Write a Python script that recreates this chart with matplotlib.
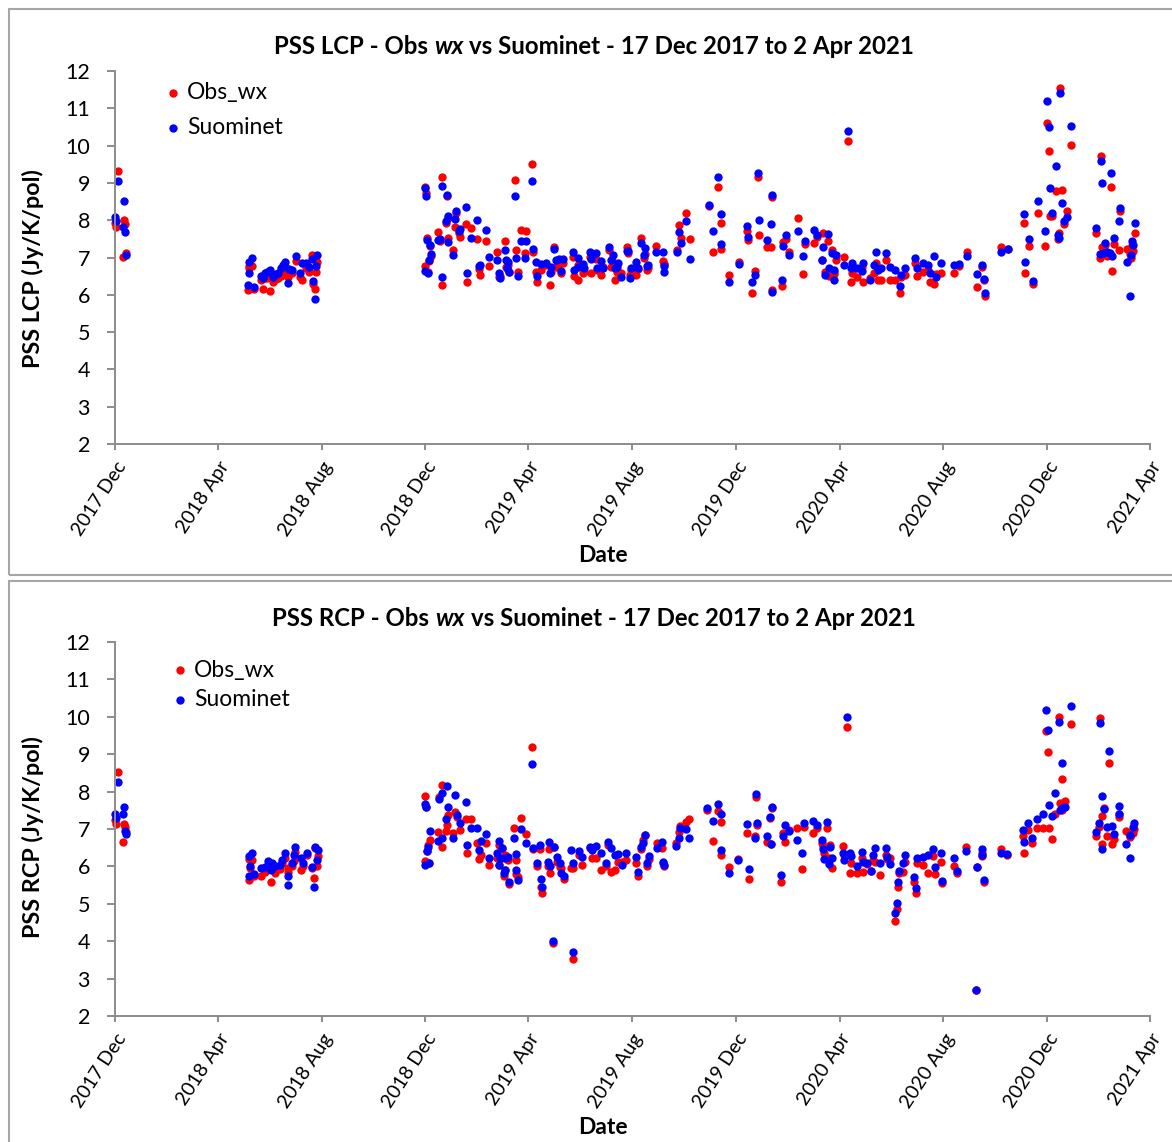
import datetime as dt
import matplotlib
matplotlib.use("Agg")
import matplotlib.pyplot as plt
from matplotlib.patches import Rectangle
from matplotlib.lines import Line2D

# ---------------- data (days since 17 Dec 2017) ----------------
lcp_day = [0, 1, 4, 9, 11, 12, 13,
           156, 157, 158, 161, 163, 172, 174, 176, 179, 182, 186, 189, 192, 195, 198, 200, 203, 205, 208,
           213, 217, 220, 225, 228, 232, 233, 235, 236, 237,
           364, 365, 366, 367, 368, 369, 370, 371, 380, 382, 384, 385, 389, 390, 391, 392, 397, 400, 401,
           404, 406, 413, 414, 419, 426, 428, 429, 436, 440,
           449, 451, 453, 458, 460, 461, 462, 463, 470, 472, 474, 477, 482, 483, 490, 492, 495, 496,
           501, 507, 511, 513, 516, 519, 522, 524, 527, 539, 540, 544, 545, 550, 552, 559, 560, 566, 567,
           572, 574, 581, 583, 586, 588, 590, 592, 595, 602, 603, 605, 607, 613, 615, 619, 622, 623, 626,
           627, 636, 644, 645, 646,
           661, 663, 665, 671, 676, 698, 703, 709, 712, 713, 722, 734, 743, 744, 749, 753, 756, 757, 767,
           771, 772, 773, 784, 785, 789, 792, 803, 809, 811,
           822, 826, 831, 832, 835, 838, 839, 843, 845, 846, 848, 857, 862, 866, 867, 873, 878, 879, 888,
           892, 895, 897, 901, 907, 911, 917, 923, 924, 929, 941, 943, 950, 956, 958, 963, 965, 971, 986,
           992, 1002, 1014, 1020, 1022, 1023, 1042, 1050,
           1069, 1070, 1075, 1079, 1085, 1093, 1096, 1098, 1099, 1102, 1106, 1109, 1110, 1111, 1113, 1116,
           1119, 1124, 1154, 1158, 1159, 1161, 1162, 1164, 1167, 1170, 1171, 1172, 1175, 1180, 1182, 1190,
           1194, 1195, 1196, 1197, 1199]
lcp_obs = [7.92, 7.83, 9.32, 7.02, 8.00, 7.90, 7.13,
           6.13, 6.78, 6.71, 6.78, 6.16, 6.40, 6.16, 6.45, 6.45, 6.10, 6.33, 6.42, 6.44, 6.50, 6.65, 6.75, 6.49, 6.55, 6.58,
           6.90, 6.49, 6.40, 6.71, 6.60, 7.07, 6.29, 6.15, 6.60, 6.89,
           6.77, 8.90, 8.72, 7.51, 6.62, 6.90, 7.30, 7.04, 7.69, 7.45, 6.26, 9.17, 7.92, 8.66, 7.51, 8.05, 7.20, 7.81, 8.20,
           7.65, 7.54, 7.90, 6.35, 7.78, 7.50, 6.68, 6.53, 7.45, 6.77,
           7.14, 6.48, 6.50, 7.45, 6.75, 6.71, 6.80, 6.62, 9.08, 7.20, 6.62, 7.74, 7.13, 7.72, 9.52, 7.16, 6.62, 6.33,
           6.66, 6.80, 6.26, 6.62, 7.27, 6.75, 6.82, 6.58, 6.84, 7.02, 6.50, 6.41, 6.80, 6.58, 6.60, 7.02, 6.58, 6.96, 6.66,
           6.53, 6.75, 7.20, 6.75, 6.89, 6.40, 6.62, 6.62, 6.58, 7.27, 7.13, 6.53, 6.66, 6.53, 6.70, 7.51, 7.00, 7.10, 6.66,
           6.71, 7.32, 6.91, 6.82, 6.82,
           7.20, 7.87, 7.51, 8.18, 7.49, 8.39, 7.16, 8.90, 7.92, 7.22, 6.53, 6.87, 7.72, 7.47, 6.04, 6.64, 9.17, 7.60, 7.29,
           7.27, 6.13, 8.63, 6.24, 7.42, 7.50, 7.16, 8.07, 6.56, 7.35,
           7.40, 7.56, 6.92, 7.65, 6.62, 7.45, 6.50, 7.20, 6.55, 6.62, 6.93, 7.02, 10.13, 6.33, 6.58, 6.47, 6.75, 6.35, 6.44,
           6.58, 6.84, 6.40, 6.41, 6.92, 6.40, 6.40, 6.04, 6.49, 6.53, 6.86, 6.50, 6.62, 6.66, 6.33, 6.29, 6.55, 6.59, 6.58,
           6.77, 7.16, 6.22, 6.74, 6.41, 5.98, 7.29, 7.22,
           7.93, 6.58, 7.32, 6.28, 8.18, 7.32, 10.60, 9.86, 8.11, 8.11, 8.79, 7.49, 7.67, 11.54, 8.81, 7.90,
           8.25, 10.02, 7.66, 7.00, 9.72, 7.29, 7.15, 7.33, 7.05, 7.10, 8.90, 6.64, 7.36, 7.20, 8.25, 7.22,
           7.10, 6.98, 7.34, 7.18, 7.65]
lcp_suo = [8.09, 7.98, 9.04, 7.83, 8.51, 7.68, 7.08,
           6.26, 6.88, 6.58, 6.98, 6.22, 6.50, 6.45, 6.58, 6.62, 6.66, 6.49, 6.55, 6.58, 6.72, 6.80, 6.89, 6.31, 6.70, 6.66,
           7.05, 6.58, 6.84, 6.84, 6.75, 6.95, 6.38, 5.89, 6.77, 7.07,
           6.65, 8.85, 8.66, 7.47, 6.58, 6.93, 7.33, 7.09, 7.47, 7.50, 6.47, 8.92, 7.99, 8.68, 7.42, 8.11, 7.07, 8.02, 8.26,
           7.72, 7.76, 8.36, 6.58, 7.53, 8.00, 6.77, 6.80, 7.74, 7.02,
           6.93, 6.59, 6.46, 7.20, 6.93, 6.71, 6.89, 6.62, 8.66, 7.00, 6.50, 7.45, 7.00, 7.45, 9.05, 7.23, 6.88, 6.51,
           6.82, 6.84, 6.59, 6.75, 7.22, 6.93, 6.96, 6.65, 6.95, 7.14, 6.66, 6.75, 6.98, 6.82, 6.71, 7.14, 6.96, 7.11, 6.71,
           6.91, 6.73, 7.27, 6.93, 7.07, 6.71, 6.74, 6.84, 6.49, 7.18, 7.18, 6.44, 6.71, 6.89, 6.71, 7.40, 7.07, 7.25, 6.77,
           6.80, 7.14, 7.14, 6.77, 6.60,
           7.14, 7.69, 7.38, 7.98, 6.95, 8.42, 7.72, 9.15, 8.16, 7.36, 6.33, 6.82, 7.84, 7.54, 6.34, 6.53, 9.26, 8.00, 7.47,
           7.90, 6.08, 8.68, 6.41, 7.31, 7.59, 7.08, 7.72, 7.04, 7.45,
           7.75, 7.60, 6.92, 7.29, 6.53, 7.63, 6.73, 7.11, 6.40, 6.66, 7.07, 6.80, 10.38, 6.71, 6.84, 6.71, 6.65, 6.86, 6.40,
           6.80, 7.15, 6.66, 6.71, 7.11, 6.75, 6.66, 6.24, 6.53, 6.73, 6.99, 6.71, 6.84, 6.80, 6.58, 7.04, 6.49, 6.84, 6.79,
           6.82, 7.04, 6.55, 6.80, 6.42, 6.06, 7.14, 7.22,
           8.16, 6.87, 7.50, 6.37, 8.51, 7.71, 11.20, 10.49, 8.87, 8.18, 9.44, 7.60, 7.53, 11.40, 8.45, 7.99,
           8.09, 10.53, 7.80, 7.10, 9.60, 8.99, 7.12, 7.38, 7.15, 7.13, 9.26, 7.05, 7.51, 7.98, 8.34, 6.88,
           5.98, 7.07, 7.45, 7.33, 7.93]

rcp_day = [0, 1, 4, 9, 11, 12, 13,
           157, 158, 159, 161, 163, 172, 176, 180, 183, 185, 188, 194, 196, 200, 203, 204, 208, 211, 212,
           219, 221, 226, 232, 234, 235, 237, 239,
           364, 365, 366, 367, 368, 369, 370, 380, 381, 384, 385, 389, 390, 392, 397, 400, 402, 406, 413,
           414, 419, 426, 428, 430, 436, 440,
           449, 451, 452, 453, 455, 457, 458, 459, 462, 463, 469, 471, 472, 474, 477, 483, 490, 492, 496,
           500, 501, 502, 509, 510, 511, 515, 516, 520, 523, 524, 528, 536, 538, 539, 546, 549, 558, 561,
           566, 572, 577, 580, 583, 588, 592, 596, 601, 613, 615, 618, 621, 623, 625, 628, 637, 643, 644, 645,
           660, 663, 664, 671, 675, 696, 703, 709, 712, 713, 722, 733, 743, 746, 753, 754, 755, 767, 770,
           771, 773, 783, 785, 788, 792, 802, 808, 810,
           821, 826, 831, 832, 834, 837, 839, 841, 843, 856, 857, 861, 864, 866, 872, 878, 880, 884, 889,
           891, 894, 899, 906, 908, 911, 917, 920, 921, 922, 926, 929, 939, 942, 943, 950, 956, 962, 964,
           971, 972, 986, 990, 1001, 1012, 1013, 1019, 1020, 1022, 1042, 1049,
           1068, 1069, 1074, 1078, 1084, 1091, 1095, 1097, 1098, 1102, 1105, 1110, 1111, 1113, 1114, 1117,
           1124, 1153, 1157, 1158, 1160, 1161, 1163, 1166, 1169, 1172, 1175, 1180, 1181, 1189, 1193, 1194,
           1197, 1198]
rcp_obs = [7.24, 7.13, 8.53, 6.66, 7.13, 7.05, 6.93,
           5.64, 6.20, 5.95, 6.17, 5.74, 5.74, 5.86, 5.99, 5.59, 5.95, 5.83, 5.92, 6.08, 6.22, 5.86, 5.95, 6.01, 6.15, 6.39,
           5.90, 6.00, 6.31, 5.95, 5.70, 6.50, 6.01, 6.28,
           6.15, 7.88, 7.58, 6.40, 6.57, 6.08, 6.71, 6.93, 7.85, 6.53, 8.18, 6.95, 7.10, 7.37, 6.88, 7.46, 7.31, 6.97, 7.28,
           6.35, 7.28, 6.62, 6.19, 6.30, 6.62, 6.04,
           6.22, 6.04, 6.57, 6.19, 6.48, 5.74, 6.30, 5.90, 6.17, 5.53, 7.04, 5.80, 6.17, 5.72, 7.29, 6.86, 9.18, 6.46, 6.00,
           6.46, 5.46, 5.28, 6.01, 6.46, 5.82, 3.94, 6.53, 6.13, 5.98, 5.95, 5.67, 5.95, 3.52, 5.95, 6.31, 6.04, 6.48, 6.22,
           6.22, 5.90, 6.00, 6.57, 5.86, 5.90, 6.13, 6.13, 6.17, 6.08, 5.74, 6.46, 6.71, 6.84, 6.00, 6.19, 6.62, 6.48, 6.08, 6.01,
           6.62, 6.93, 7.08, 7.20, 7.28, 7.51, 6.69, 7.48, 7.18, 6.31, 5.99, 6.21, 6.88, 5.66, 6.80, 7.86, 7.11, 6.66, 7.30,
           6.60, 7.55, 5.59, 6.88, 6.66, 6.97, 7.02, 5.92, 7.06,
           6.88, 7.02, 6.62, 6.55, 6.35, 7.02, 6.22, 6.57, 5.95, 6.55, 6.31, 9.74, 5.82, 6.08, 5.82, 6.22, 5.86, 6.06, 5.89,
           6.17, 6.13, 5.77, 6.31, 6.19, 6.22, 4.55, 4.86, 5.44, 5.83, 5.86, 6.13, 5.59, 5.28, 6.08, 6.04, 5.83, 6.28, 5.80,
           6.13, 5.55, 6.02, 5.83, 6.53, 2.70, 5.99, 6.35, 6.28, 5.57, 6.46, 6.31,
           6.81, 6.35, 6.96, 6.63, 7.02, 7.02, 9.62, 9.07, 7.02, 6.72, 7.39, 9.99, 7.69, 8.35, 7.50, 7.76,
           9.80, 6.81, 7.06, 9.96, 7.35, 6.60, 7.55, 6.80, 8.76, 6.60, 6.72, 7.33, 7.40, 6.95, 6.78, 6.80,
           6.88, 7.00]
rcp_suo = [7.39, 7.29, 8.27, 7.40, 7.60, 6.95, 6.86,
           5.74, 6.28, 6.01, 6.35, 5.80, 5.95, 5.99, 6.15, 5.90, 6.08, 6.01, 6.04, 6.17, 6.35, 5.74, 5.49, 6.08, 6.31, 6.53,
           6.22, 6.10, 6.35, 5.99, 5.46, 6.51, 6.17, 6.44,
           6.04, 7.67, 7.60, 6.40, 6.53, 6.08, 6.95, 6.68, 7.79, 6.75, 7.95, 7.26, 8.15, 7.58, 6.77, 7.92, 7.37, 7.15, 7.73,
           6.57, 7.04, 7.04, 6.44, 6.68, 6.86, 6.23,
           6.35, 6.04, 6.69, 6.23, 6.48, 5.82, 6.23, 5.90, 6.26, 5.57, 6.75, 5.90, 6.33, 5.64, 7.01, 6.62, 8.73, 6.48, 6.08,
           6.57, 5.65, 5.44, 6.13, 6.66, 6.00, 4.01, 6.51, 6.26, 6.08, 5.82, 5.74, 6.44, 3.70, 6.08, 6.40, 6.26, 6.53, 6.44,
           6.55, 6.35, 6.08, 6.66, 6.48, 6.30, 6.33, 6.04, 6.35, 6.26, 5.86, 6.51, 6.62, 6.84, 6.08, 6.28, 6.48, 6.64, 6.13, 6.04,
           6.55, 6.75, 7.02, 6.99, 6.77, 7.55, 7.22, 7.67, 7.39, 6.44, 5.82, 6.17, 7.13, 5.92, 6.75, 7.94, 7.15, 6.81, 7.33,
           6.60, 7.60, 5.77, 6.81, 7.11, 6.95, 6.71, 6.35, 7.15,
           7.22, 7.11, 6.71, 6.47, 6.19, 7.20, 6.06, 6.53, 6.22, 6.35, 6.17, 9.99, 6.35, 6.28, 6.02, 6.39, 6.13, 6.08, 5.89,
           6.31, 6.50, 6.08, 6.50, 6.24, 6.06, 4.76, 5.01, 5.57, 5.88, 6.10, 6.31, 5.72, 5.41, 6.22, 6.26, 6.31, 6.47, 5.99,
           6.35, 5.61, 6.22, 5.89, 6.42, 2.70, 5.99, 6.47, 6.31, 5.64, 6.35, 6.33,
           6.97, 6.66, 7.15, 6.75, 7.28, 7.39, 10.18, 9.66, 7.64, 7.35, 7.95, 9.85, 7.51, 8.76, 7.55, 7.60,
           10.30, 6.93, 7.15, 9.84, 7.88, 6.47, 7.53, 7.06, 9.09, 7.08, 6.87, 7.62, 7.40, 6.60, 6.22, 6.84,
           7.06, 7.15]

y_ticks = list(range(2, 13))
series_names = ["Obs_wx", "Suominet"]
series_colors = ["#FF0000", "#0000FF"]
start_date = dt.datetime(2017, 12, 17)
end_date = dt.datetime(2021, 4, 17)

# ---------------- figure ----------------
W, H = 1172, 1142
plt.rcParams["font.family"] = ["Lato", "DejaVu Sans"]
fig = plt.figure(figsize=(W / 100, H / 100), dpi=100)
renderer = fig.canvas.get_renderer()

GRAY = "#8c8c8c"
MS = 6.0


def fx(px):
    return px / W


def fy(py):
    return 1 - py / H


tick_dates = []
for i in range(11):
    m = 11 + 4 * i
    tick_dates.append(dt.datetime(2017 + m // 12, m % 12 + 1, 17))


def rich_title(cx, cy, parts, size):
    a = fig.text(0, 0, "x x", fontsize=size, fontweight="bold")
    b = fig.text(0, 0, "xx", fontsize=size, fontweight="bold")
    sp = a.get_window_extent(renderer).width - b.get_window_extent(renderer).width
    a.remove(); b.remove()
    texts, widths = [], []
    for s, style in parts:
        t = fig.text(0, fy(cy), s, fontsize=size, fontweight="bold", fontstyle=style,
                     ha="left", va="center")
        texts.append(t)
        widths.append(t.get_window_extent(renderer).width)
    total = sum(widths) + sp * (len(parts) - 1)
    x = cx - total / 2
    for t, w in zip(texts, widths):
        t.set_x(fx(x))
        x += w + sp


def panel(top, bottom, frame, name, ylab, ylab_y, title_y, xlab_y, leg, days, obs, suo):
    fig.add_artist(Rectangle((fx(frame[0]), fy(frame[3])), fx(frame[2] - frame[0]),
                             (frame[3] - frame[1]) / H, transform=fig.transFigure,
                             fill=False, edgecolor="#a6a6a6", linewidth=1.5))
    ax = fig.add_axes([fx(115), fy(bottom), fx(1150 - 115), (bottom - top) / H])
    dates = [start_date + dt.timedelta(days=d) for d in days]
    ax.plot(dates, obs, "o", color=series_colors[0], ms=MS, mew=0, clip_on=False)
    ax.plot(dates, suo, "o", color=series_colors[1], ms=MS, mew=0, clip_on=False)
    ax.set_xlim(start_date, end_date)
    ax.set_ylim(2, 12)
    ax.set_yticks(y_ticks)
    ax.set_yticklabels([str(v) for v in y_ticks])
    ax.set_xticks(tick_dates)
    ax.set_xticklabels([d.strftime("%Y %b") for d in tick_dates], rotation=57,
                       ha="right", va="top", rotation_mode="anchor")
    for s in ["top", "right"]:
        ax.spines[s].set_visible(False)
    for s in ["left", "bottom"]:
        ax.spines[s].set_color(GRAY)
        ax.spines[s].set_linewidth(1.4)
    ax.tick_params(axis="y", direction="out", length=6, width=1.4, color=GRAY,
                   labelsize=15.5, pad=12)
    ax.tick_params(axis="x", direction="out", length=4.5, width=1.4, color=GRAY,
                   labelsize=14, pad=6)
    ax.patch.set_visible(False)

    rich_title(594, title_y, [(f"PSS {name} - Obs", "normal"), ("wx", "italic"),
                              ("vs Suominet - 17 Dec 2017 to 2 Apr 2021", "normal")], 17.3)
    fig.text(fx(33), fy(ylab_y), ylab, rotation=90, ha="center", va="center",
             fontsize=16.8, fontweight="bold")
    fig.text(fx(603), fy(xlab_y), "Date", ha="center", va="center",
             fontsize=16.5, fontweight="bold")
    lx, ly1, ly2 = leg
    for (yy, lab, col) in [(ly1, series_names[0], series_colors[0]),
                           (ly2, series_names[1], series_colors[1])]:
        fig.add_artist(Line2D([fx(lx)], [fy(yy)], marker="o", ms=MS, mew=0, color=col,
                              linestyle="none", transform=fig.transFigure))
        fig.text(fx(lx + 14), fy(yy), lab, ha="left", va="center", fontsize=16.5)
    return ax


panel(71, 444, (9, 9, 1190, 575), "LCP", "PSS LCP (Jy/K/pol)", 269, 46, 556,
      (173, 93, 128), lcp_day, lcp_obs, lcp_suo)
panel(642, 1016, (9, 581, 1190, 1160), "RCP", "PSS RCP (Jy/K/pol)", 837, 618, 1128,
      (180, 670, 700), rcp_day, rcp_obs, rcp_suo)

fig.savefig("out.png", dpi=100)
